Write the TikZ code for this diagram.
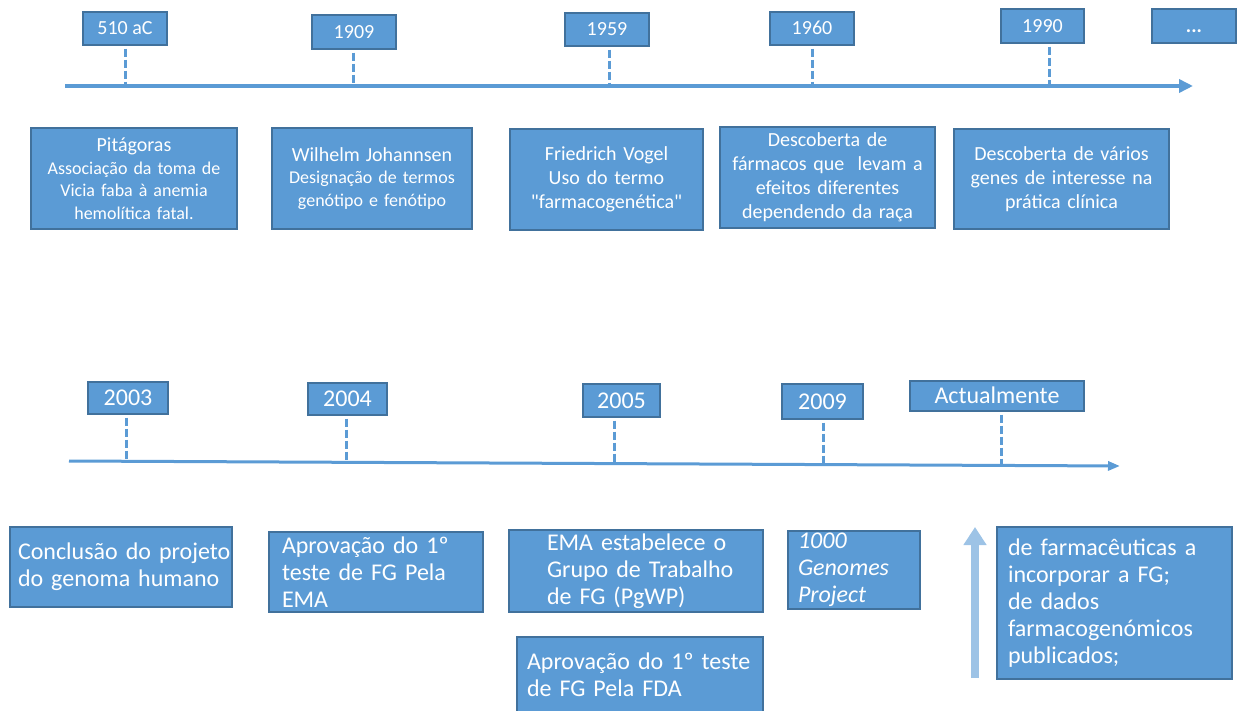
\documentclass[tikz,border=0pt]{standalone}
\usepackage{fontspec}
\setmainfont{Carlito}
\newfontfamily\qf{Carlito}[Ligatures=ResetAll]
\usetikzlibrary{arrows.meta}
\definecolor{boxc}{HTML}{5B9BD5}
\definecolor{bordc}{HTML}{41719C}
\definecolor{linec}{HTML}{5B9BD5}
\definecolor{lightc}{HTML}{9DC3E6}
\newcommand{\ind}[1]{\hspace*{#1}}
\begin{document}
\begin{tikzpicture}[x=1pt,y=-1pt,
  box/.style={rectangle, draw=bordc, fill=boxc, line width=1.3pt, text=white, inner sep=0pt},
  ybox/.style={box, font=\fontsize{20}{24}\selectfont, text height=13pt, text depth=0pt},
  byear/.style={box, font=\fontsize{24}{28}\selectfont, text height=15.5pt, text depth=0pt},
  cbox/.style={box, align=center, font=\fontsize{20}{24}\selectfont},
  lbox/.style={box, align=left, font=\fontsize{24}{27}\selectfont},
  tick/.style={linec, line width=3pt, dash pattern=on 8pt off 3pt, shorten <=3pt},
  tline/.style={linec, line width=4pt},
]
\useasboundingbox (0,0) rectangle (1243,711);

% ---------- top timeline ----------
\coordinate (ta) at (65,86);
\coordinate (tb) at (1193,86);
\draw[tline, -{Triangle[length=14pt,width=13pt]}] (ta) -- (tb);

\node[ybox, minimum width=84pt, minimum height=33pt] (y1) at (125,28.5) {510 aC};
\node[ybox, minimum width=84pt, minimum height=34pt] (y2) at (354,32) {1909};
\node[ybox, minimum width=84pt, minimum height=33pt] (y3) at (607,29.5) {1959};
\node[ybox, minimum width=84pt, minimum height=33pt] (y4) at (812,28.5) {1960};
\node[ybox, minimum width=83pt, minimum height=34pt] (y5) at (1042.5,26) {1990};
\node[ybox, minimum width=84pt, minimum height=34pt] (y6) at (1194,26) {\textbf{...}};

\coordinate (k1) at (125,86);
\coordinate (k2) at (353,86);
\coordinate (k3) at (609,86);
\coordinate (k4) at (812,86);
\coordinate (k5) at (1049,86);
\draw[tick] (y1.south -| k1) -- (k1);
\draw[tick] (y2.south -| k2) -- (k2);
\draw[tick] (y3.south -| k3) -- (k3);
\draw[tick] (y4.south -| k4) -- (k4);
\draw[tick] (y5.south -| k5) -- (k5);

\node[cbox, text width=206pt, minimum height=101pt, font=\fontsize{18}{22.5}\selectfont] (c1) at (134,178.5)
  {{\fontsize{20}{22.5}\selectfont Pitágoras}\\Associação da toma de\\Vicia faba à anemia\\hemolítica fatal.};
\node[cbox, text width=200pt, minimum height=101pt, font=\fontsize{18}{22.5}\selectfont] (c2) at (372,178.5)
  {{\fontsize{20}{22.5}\selectfont Wilhelm Johannsen}\\Designação de termos\\genótipo e fenótipo};
\node[cbox, text width=193pt, minimum height=101pt] (c3) at (606.5,179.5)
  {Friedrich Vogel\\Uso do termo\\{\qf"}farmacogenética{\qf"}};
\node[cbox, text width=215pt, minimum height=101pt] (c4) at (827.5,177.5)
  {Descoberta de\\fármacos que\ \ levam a\\efeitos diferentes\\dependendo da raça};
\node[cbox, text width=215pt, minimum height=100pt] (c5) at (1061.5,179)
  {Descoberta de vários\\genes de interesse na\\prática clínica};

% ---------- bottom timeline ----------
\coordinate (ba) at (69,461);
\coordinate (bb) at (1120,466);
\draw[linec, line width=3pt, -{Triangle[length=12pt,width=9pt]}] (ba) -- (bb);

\node[byear, minimum width=80pt, minimum height=32pt] (b1) at (128,398) {2003};
\node[byear, minimum width=79pt, minimum height=32pt] (b2) at (347.5,399) {2004};
\node[byear, minimum width=77pt, minimum height=33pt] (b3) at (621.5,400.5) {2005};
\node[byear, minimum width=81pt, minimum height=35pt] (b4) at (822.5,401.5) {2009};
\node[byear, minimum width=174pt, minimum height=30pt] (b5) at (997,396) {Actualmente};

\coordinate (m1) at (126,461.3);
\coordinate (m2) at (346,462.3);
\coordinate (m3) at (614,463.6);
\coordinate (m4) at (823,464.6);
\coordinate (m5) at (1001,465.4);
\draw[tick] (b1.south -| m1) -- (m1);
\draw[tick] (b2.south -| m2) -- (m2);
\draw[tick] (b3.south -| m3) -- (m3);
\draw[tick] (b4.south -| m4) -- (m4);
\draw[tick] (b5.south -| m5) -- (m5);

\node[lbox, text width=222pt, minimum height=80pt] (e1) at (121,567)
  {\ind{8pt}Conclusão do projeto\\\ind{8pt}do genoma humano};
\node[lbox, text width=214pt, minimum height=80pt] (e2) at (376,572)
  {\ind{13pt}Aprovação do 1º\\\ind{13pt}teste de FG Pela\\\ind{13pt}EMA};
\node[lbox, text width=254pt, minimum height=82pt] (e3) at (636,571)
  {\ind{38pt}EMA estabelece o\\\ind{38pt}Grupo de Trabalho\\\ind{38pt}de FG (PgWP)};
\node[lbox, text width=132pt, minimum height=78pt, font=\fontsize{24}{27}\selectfont\itshape] (e4) at (854,570)
  {\ind{10pt}1000\\\ind{10pt}Genomes\\\ind{10pt}Project};
\node[lbox, text width=246pt, minimum height=76pt] (e5) at (640,675)
  {\ind{10pt}Aprovação do 1º teste\\\ind{10pt}de FG Pela FDA};
\node[lbox, text width=235pt, minimum height=152pt] (e6) at (1114.5,603)
  {\ind{11pt}de farmacêuticas a\\\ind{11pt}incorporar a FG;\\\ind{11pt}de dados\\\ind{11pt}farmacogenómicos\\\ind{11pt}publicados;};

\coordinate (la) at (975,678);
\coordinate (lb) at (975,527);
\draw[lightc, line width=8pt, -{Triangle[length=18pt,width=22pt]}] (la) -- (lb);
\end{tikzpicture}
\end{document}
